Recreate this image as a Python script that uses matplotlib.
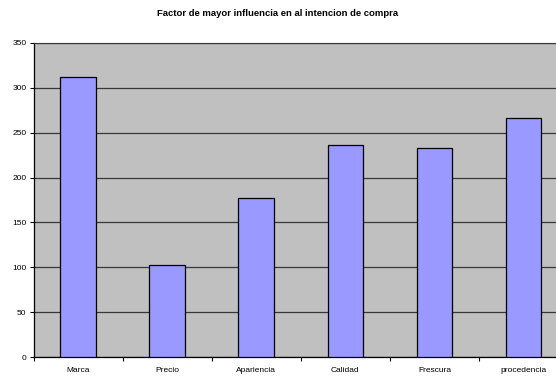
import numpy as np
import matplotlib.pyplot as plt

plt.rcParams['font.family'] = ['Liberation Sans', 'DejaVu Sans']

# Factores y número de respuestas
factores = ['Marca', 'Precio', 'Apariencia', 'Calidad', 'Frescura', 'procedencia']
respuestas = [312, 102, 177, 236, 233, 266]
y_ticks = [0, 50, 100, 150, 200, 250, 300, 350]

fig = plt.figure(figsize=(5.56, 3.77), dpi=100)
# el área del gráfico sigue más allá del borde derecho
ax = fig.add_axes([0.0603, 0.053, 0.9615, 0.833])
ax.set_facecolor('#C0C0C0')

x = np.arange(len(factores))
ax.bar(x, respuestas, width=0.4, color='#9999FF', edgecolor='black',
       linewidth=0.9, zorder=3)

ax.set_xlim(-0.5, len(factores) - 0.5)
ax.set_ylim(0, 350)
ax.set_yticks(y_ticks)
ax.set_yticklabels([str(v) for v in y_ticks], fontsize=6)
ax.yaxis.grid(True, color='#383838', linewidth=0.9, zorder=1)
ax.set_axisbelow(True)

# etiquetas en el centro, marcas entre categorías
ax.set_xticks(x)
ax.set_xticklabels(factores, fontsize=6)
ax.set_xticks(np.arange(len(factores) + 1) - 0.5, minor=True)
ax.tick_params(axis='x', which='major', length=0, pad=7)
ax.tick_params(axis='x', which='minor', length=3, width=0.8, direction='out')
ax.tick_params(axis='y', length=3, width=0.8, pad=2)

for side in ['left', 'bottom']:
    ax.spines[side].set_color('black')
    ax.spines[side].set_linewidth(0.9)
ax.spines['top'].set_color('#383838')
ax.spines['right'].set_visible(False)

fig.text(0.5, 0.963, 'Factor de mayor influencia en al intencion de compra',
         ha='center', va='center', fontsize=6.8, fontweight='bold')

fig.savefig('out.png', dpi=100)
